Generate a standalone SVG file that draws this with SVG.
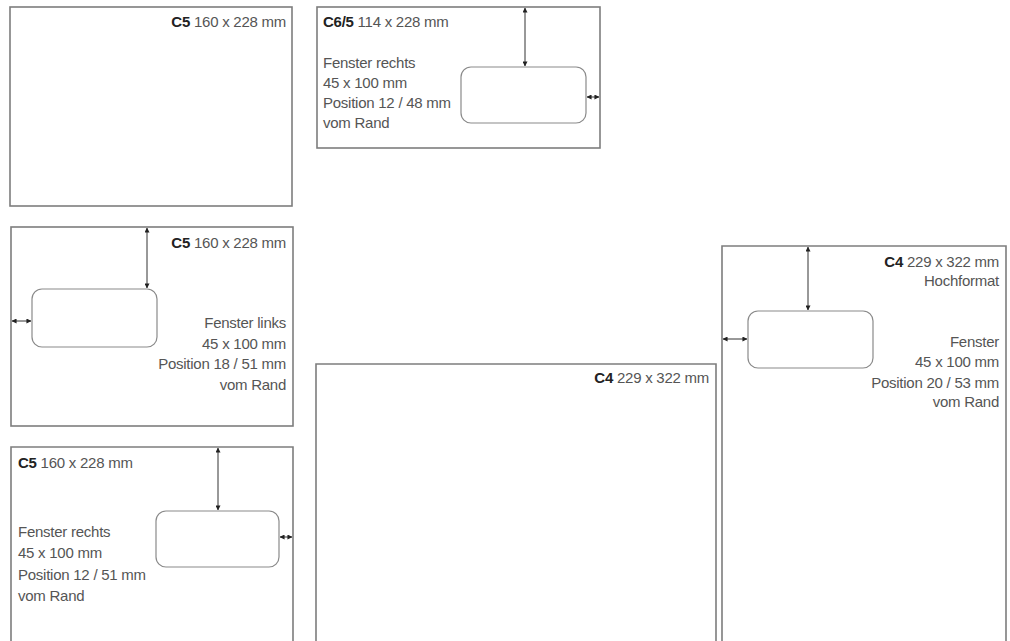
<svg xmlns="http://www.w3.org/2000/svg" width="1010" height="641" viewBox="0 0 1010 641">
<style>
.env{fill:#fff;stroke:#7d7d7d;stroke-width:1.6}
.win{fill:#fff;stroke:#8a8a8a;stroke-width:1.2}
.t{font-family:"Liberation Sans","Noto Sans",sans-serif;font-size:15px;letter-spacing:-0.25px;fill:#555}
.b{font-weight:bold;fill:#222}
.r{text-anchor:end}
.dim{stroke:#333;stroke-width:1;fill:none;marker-start:url(#ah);marker-end:url(#ah)}
</style>
<defs>
<marker id="ah" viewBox="0 0 6 6" refX="5.5" refY="3" markerWidth="5" markerHeight="5" orient="auto-start-reverse" markerUnits="userSpaceOnUse">
<path d="M0,0 L6,3 L0,6 Z" fill="#222"/>
</marker>
</defs>
<rect width="1010" height="641" fill="#fff"/>
<g id="env-c5-plain">
<rect class="env" x="10" y="7" width="282" height="199"/>
<text class="t r" x="286" y="27"><tspan class="b">C5</tspan> 160 x 228 mm</text>
</g>
<g id="env-c65">
<rect class="env" x="317" y="7" width="283" height="141"/>
<text class="t" x="323" y="27"><tspan class="b">C6/5</tspan> 114 x 228 mm</text>
<text class="t" x="323" y="68">Fenster rechts</text>
<text class="t" x="323" y="88">45 x 100 mm</text>
<text class="t" x="323" y="108">Position 12 / 48 mm</text>
<text class="t" x="323" y="128">vom Rand</text>
<rect class="win" x="461" y="67" width="125" height="56" rx="10"/>
</g>
<g id="env-c5-links">
<rect class="env" x="11" y="227" width="282" height="199"/>
<text class="t r" x="286" y="248"><tspan class="b">C5</tspan> 160 x 228 mm</text>
<text class="t r" x="286" y="328">Fenster links</text>
<text class="t r" x="286" y="349">45 x 100 mm</text>
<text class="t r" x="286" y="369">Position 18 / 51 mm</text>
<text class="t r" x="286" y="390">vom Rand</text>
<rect class="win" x="32" y="289" width="125" height="58" rx="10"/>
</g>
<g id="env-c5-rechts">
<path class="env" d="M11,645 V447 H293 V645"/>
<text class="t" x="18" y="468"><tspan class="b">C5</tspan> 160 x 228 mm</text>
<text class="t" x="18" y="537">Fenster rechts</text>
<text class="t" x="18" y="558">45 x 100 mm</text>
<text class="t" x="18" y="580">Position 12 / 51 mm</text>
<text class="t" x="18" y="601">vom Rand</text>
<rect class="win" x="156" y="511" width="123" height="56" rx="10"/>
</g>
<g id="env-c4-plain">
<path class="env" d="M316,645 V364 H716 V645"/>
<text class="t r" x="709" y="383"><tspan class="b">C4</tspan> 229 x 322 mm</text>
</g>
<g id="env-c4-hoch">
<path class="env" d="M722,645 V246 H1006 V645"/>
<text class="t r" x="999" y="267"><tspan class="b">C4</tspan> 229 x 322 mm</text>
<text class="t r" x="999" y="286">Hochformat</text>
<text class="t r" x="999" y="347">Fenster</text>
<text class="t r" x="999" y="367">45 x 100 mm</text>
<text class="t r" x="999" y="388">Position 20 / 53 mm</text>
<text class="t r" x="999" y="407">vom Rand</text>
<rect class="win" x="748" y="311" width="125" height="57" rx="10"/>
</g>
<g id="connectors">
<line class="dim" x1="525" y1="8" x2="525" y2="66"/>
<line class="dim" x1="587" y1="97" x2="599" y2="97"/>
<line class="dim" x1="147" y1="228" x2="147" y2="288"/>
<line class="dim" x1="12" y1="321" x2="31" y2="321"/>
<line class="dim" x1="218" y1="448" x2="218" y2="510"/>
<line class="dim" x1="280" y1="537" x2="292" y2="537"/>
<line class="dim" x1="808" y1="247" x2="808" y2="310"/>
<line class="dim" x1="723" y1="339" x2="747" y2="339"/>
</g>
</svg>
